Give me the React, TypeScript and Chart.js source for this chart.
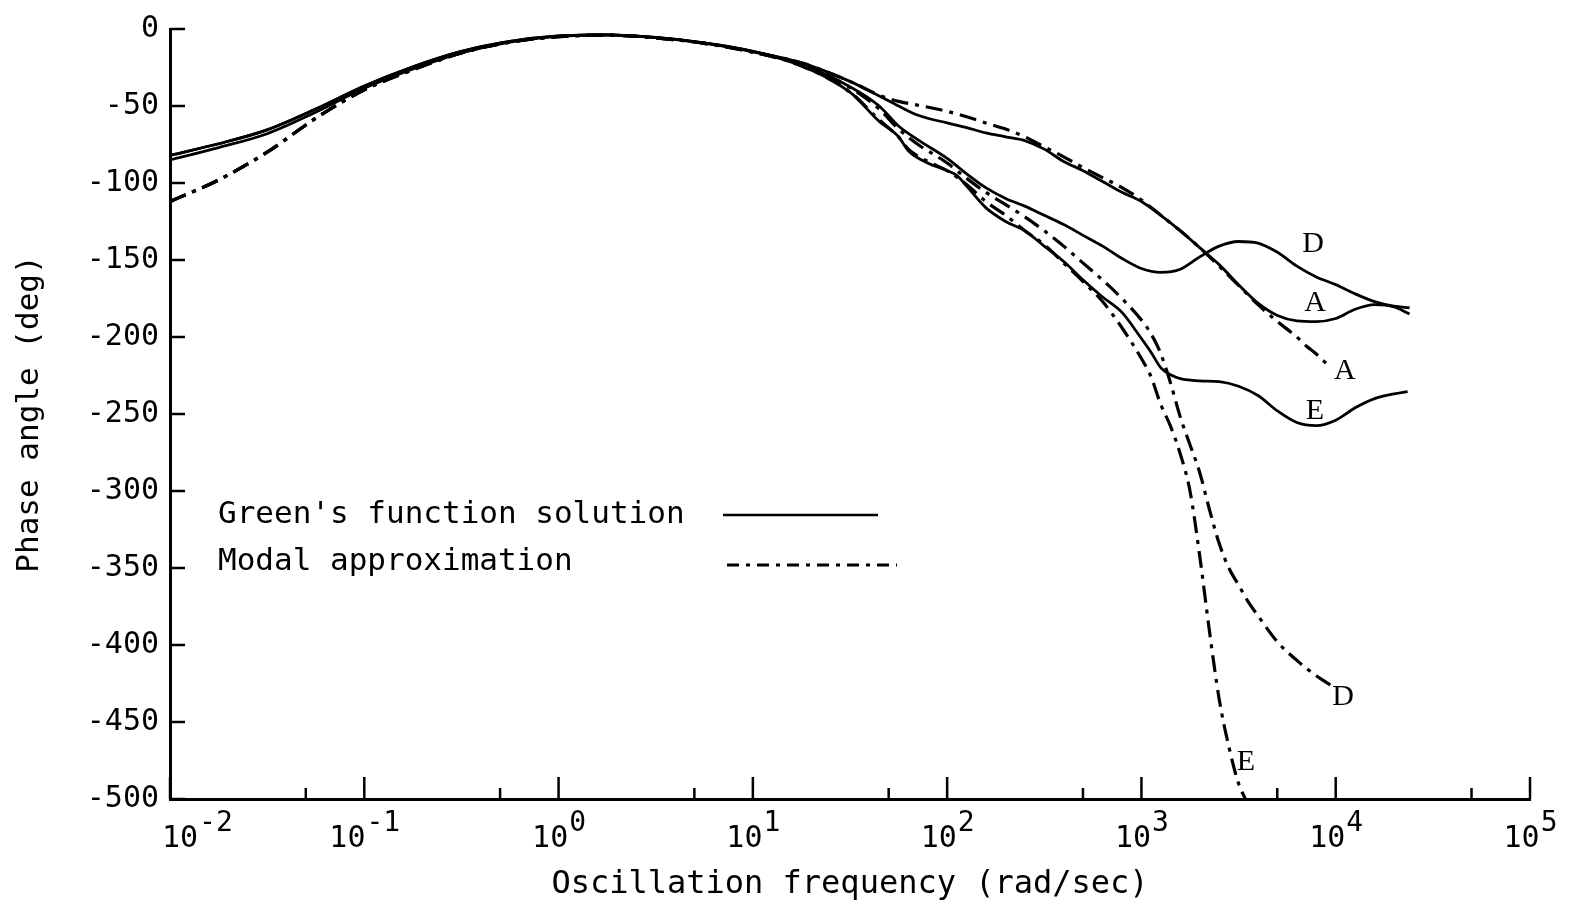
import React, { useEffect, useRef } from "react";
import { Chart, registerables } from "chart.js";

Chart.register(...registerables);

// ---------- data (frequency in rad/sec, phase angle in deg) ----------
const GA_FREQ = [0.01, 0.0178, 0.0316, 0.0562, 0.1, 0.178, 0.316, 0.562, 1, 1.78, 3.16, 5.62, 10, 17.8, 31.6, 44.7, 56.2, 70.8, 100, 126, 158, 200, 251, 316, 398, 501, 631, 794, 1000, 1259, 1585, 1995, 2512, 3162, 3981, 5012, 6310, 7943, 10000, 12589, 15849, 19953, 23988];
const GA_PHASE = [-85, -77, -68, -54, -38.5, -26, -15.5, -8.5, -4.8, -3.9, -5.6, -9.2, -14.8, -22, -34, -43.5, -50, -56, -61, -64, -67.5, -70, -72.5, -78, -86, -92, -99, -106, -112, -121, -131, -142, -153, -166, -178, -186, -189.5, -190, -188, -182, -179, -180.5, -185];

const GD_FREQ = [0.01, 0.0178, 0.0316, 0.0562, 0.1, 0.178, 0.316, 0.562, 1, 1.78, 3.16, 5.62, 10, 17.8, 31.6, 44.7, 56.2, 70.8, 100, 126, 158, 200, 251, 316, 398, 501, 631, 794, 1000, 1259, 1585, 1995, 2512, 3162, 3981, 5012, 6310, 7943, 10000, 12589, 15849, 19953, 23988];
const GD_PHASE = [-82, -74.5, -65.5, -52, -37, -24.5, -14.5, -8, -4.5, -3.8, -5.5, -9, -14.5, -23, -37.5, -50, -63, -72, -84, -94, -103, -110, -115, -121, -127, -134, -141, -149, -155.5, -158, -156, -148, -141, -138, -139, -145, -154, -161, -166, -172, -177, -180, -181];

const GE_FREQ = [0.01, 0.0178, 0.0316, 0.0562, 0.1, 0.178, 0.316, 0.562, 1, 1.78, 3.16, 5.62, 10, 17.8, 31.6, 44.7, 56.2, 63.1, 79.4, 100, 112, 126, 158, 200, 251, 316, 398, 501, 631, 794, 1000, 1122, 1259, 1413, 1585, 1995, 2512, 3162, 3981, 5012, 6310, 7943, 10000, 12589, 15849, 19953, 23442];
const GE_PHASE = [-82, -74.5, -65.5, -52, -37, -24.5, -14.5, -8, -4.5, -3.8, -5.5, -9, -14.5, -24, -41, -60, -70, -79, -87, -92, -95, -102, -116, -125, -131, -141, -151, -163, -174, -184, -201, -210, -220, -224.5, -227, -228.5, -229, -232, -238, -248, -255.5, -257.5, -254, -246, -240, -237, -235.5];

const MA_FREQ = [0.01, 0.0178, 0.0316, 0.0562, 0.1, 0.178, 0.316, 0.562, 1, 1.78, 3.16, 5.62, 10, 17.8, 31.6, 44.7, 56.2, 70.8, 100, 126, 158, 200, 251, 316, 398, 501, 631, 794, 1000, 1259, 1585, 1995, 2512, 3162, 3981, 5012, 6310, 7079, 7943, 9333];
const MA_PHASE = [-112, -98, -80, -58, -39.5, -26.5, -15.5, -8.5, -5, -4, -5.8, -9.3, -15, -22, -34, -43, -47, -49.5, -53.5, -57, -61, -65, -70, -76.5, -83, -90, -96.5, -103, -111, -121, -131, -142, -154, -166.5, -179, -190, -200, -206, -211, -219.5];

const MD_FREQ = [0.01, 0.0178, 0.0316, 0.0562, 0.1, 0.178, 0.316, 0.562, 1, 1.78, 3.16, 5.62, 10, 17.8, 31.6, 44.7, 56.2, 70.8, 100, 126, 158, 200, 251, 316, 398, 501, 631, 794, 1000, 1122, 1259, 1413, 1585, 1778, 1995, 2239, 2512, 2818, 3162, 3548, 3981, 5012, 6310, 7943, 9683];
const MD_PHASE = [-112, -98, -80, -58, -39.5, -26.5, -15.5, -8.5, -5, -4, -5.8, -9.3, -15, -23, -38, -52, -65, -75, -87, -97, -106, -114, -122, -131, -141, -152, -163, -175, -189, -198, -211, -230, -252, -270, -288, -312, -334, -350, -361, -372, -381, -398, -410, -420, -427];

const ME_FREQ = [0.01, 0.0178, 0.0316, 0.0562, 0.1, 0.178, 0.316, 0.562, 1, 1.78, 3.16, 5.62, 10, 17.8, 31.6, 44.7, 56.2, 63.1, 79.4, 100, 126, 158, 200, 251, 316, 398, 501, 631, 794, 1000, 1122, 1259, 1413, 1585, 1778, 1995, 2239, 2512, 2818, 3162, 3428];
const ME_PHASE = [-112, -98, -80, -58, -39.5, -26.5, -15.5, -8.5, -5, -4, -5.8, -9.3, -15, -24, -41, -59, -70, -78, -86, -92, -101, -112, -121, -131, -140, -152, -164, -177, -194, -214, -226, -244, -258, -276, -300, -342, -391, -435, -466, -490, -500];

// ---------- axes / ticks / labels ----------
const X_MAJOR_TICKS = [0.01, 0.1, 1, 10, 100, 1000, 10000, 100000];
const X_MAJOR_EXPONENTS = ["-2", "-1", "0", "1", "2", "3", "4", "5"];
const X_MINOR_TICKS = [0.05, 0.5, 5, 50, 500, 5000, 50000];
const Y_TICKS = [0, -50, -100, -150, -200, -250, -300, -350, -400, -450, -500];

const CURVE_LABELS = ["D", "A", "A", "E", "D", "E"];
const CURVE_LABEL_FREQ = [7640, 7820, 11140, 7820, 10900, 3450];
const CURVE_LABEL_PHASE = [-140, -178, -222, -248, -434, -476];

const LEGEND_TEXT = ["Green's function solution", "Modal approximation"];
const X_TITLE = "Oscillation frequency (rad/sec)";
const Y_TITLE = "Phase angle (deg)";

const MONO = '"DejaVu Sans Mono", "Liberation Mono", monospace';
const DASH_DOT = [17, 7, 4, 7];

const toPoints = (fs: number[], ps: number[]) => fs.map((f, i) => ({ x: f, y: ps[i] }));

const decorPlugin = {
  id: "decor",
  afterDraw(chart: any) {
    const { ctx, chartArea: a, scales } = chart;
    const xs = scales.x;
    const ys = scales.y;
    ctx.save();
    ctx.strokeStyle = "#000";
    ctx.fillStyle = "#000";
    ctx.lineCap = "butt";
    const seg = (x1: number, y1: number, x2: number, y2: number) => {
      ctx.beginPath();
      ctx.moveTo(x1, y1);
      ctx.lineTo(x2, y2);
      ctx.stroke();
    };
    // inward tick marks
    ctx.lineWidth = 2.5;
    X_MAJOR_TICKS.forEach((v) => {
      const px = xs.getPixelForValue(v);
      seg(px, a.bottom, px, a.bottom - 22);
    });
    X_MINOR_TICKS.forEach((v) => {
      const px = xs.getPixelForValue(v);
      seg(px, a.bottom, px, a.bottom - 11);
    });
    Y_TICKS.forEach((v) => {
      const py = ys.getPixelForValue(v);
      seg(a.left, py, a.left + 15, py);
    });

    // x tick labels with superscript exponents
    ctx.textAlign = "left";
    ctx.textBaseline = "alphabetic";
    X_MAJOR_TICKS.forEach((v, i) => {
      const px = xs.getPixelForValue(v);
      ctx.font = `30px ${MONO}`;
      const wb = ctx.measureText("10").width;
      ctx.font = `28px ${MONO}`;
      const we = ctx.measureText(X_MAJOR_EXPONENTS[i]).width;
      let x0 = px - (wb + we) / 2;
      if (x0 < a.left - 8) x0 = a.left - 8;
      ctx.font = `30px ${MONO}`;
      ctx.fillText("10", x0, a.bottom + 48);
      ctx.font = `28px ${MONO}`;
      ctx.fillText(X_MAJOR_EXPONENTS[i], x0 + wb + 1, a.bottom + 32);
    });

    // legend
    ctx.font = `31px ${MONO}`;
    ctx.textBaseline = "middle";
    ctx.fillText(LEGEND_TEXT[0], a.left + 48, a.top + 486);
    ctx.fillText(LEGEND_TEXT[1], a.left + 48, a.top + 533);
    ctx.lineWidth = 2.5;
    seg(a.left + 553, a.top + 486, a.left + 708, a.top + 486);
    ctx.lineWidth = 3;
    ctx.setLineDash([12, 7, 4, 7]);
    seg(a.left + 557, a.top + 536, a.left + 727, a.top + 536);
    ctx.setLineDash([]);

    // curve labels
    ctx.font = `30px "Liberation Serif", serif`;
    ctx.textAlign = "center";
    ctx.textBaseline = "middle";
    CURVE_LABELS.forEach((t, i) => {
      ctx.fillText(t, xs.getPixelForValue(CURVE_LABEL_FREQ[i]), ys.getPixelForValue(CURVE_LABEL_PHASE[i]));
    });
    ctx.restore();
  },
};

export default function App() {
  const ref = useRef<HTMLCanvasElement | null>(null);

  useEffect(() => {
    if (!ref.current) return;
    const solid = (label: string, fs: number[], ps: number[]) => ({
      label,
      data: toPoints(fs, ps),
      borderColor: "#000",
      borderWidth: 2.8,
      pointRadius: 0,
      fill: false,
      cubicInterpolationMode: "monotone" as const,
    });
    const dashed = (label: string, fs: number[], ps: number[]) => ({
      ...solid(label, fs, ps),
      borderWidth: 3.2,
      borderDash: DASH_DOT,
    });
    const chart = new Chart(ref.current, {
      type: "line",
      data: {
        datasets: [
          solid("Green's function A", GA_FREQ, GA_PHASE),
          solid("Green's function D", GD_FREQ, GD_PHASE),
          solid("Green's function E", GE_FREQ, GE_PHASE),
          dashed("Modal A", MA_FREQ, MA_PHASE),
          dashed("Modal D", MD_FREQ, MD_PHASE),
          dashed("Modal E", ME_FREQ, ME_PHASE),
        ],
      },
      options: {
        responsive: false,
        animation: false,
        devicePixelRatio: 1,
        layout: { padding: { top: 22, right: 39, bottom: 0, left: 0 } },
        plugins: { legend: { display: false }, tooltip: { enabled: false } },
        scales: {
          x: {
            type: "logarithmic",
            min: 0.01,
            max: 100000,
            grid: { display: true, drawOnChartArea: false, drawTicks: false },
            border: { display: true, color: "#000", width: 3 },
            ticks: { display: false },
            title: {
              display: true,
              text: X_TITLE,
              color: "#000",
              font: { family: MONO, size: 32, lineHeight: 1.2 },
              padding: { top: 0, bottom: 3 },
            },
            afterFit: (s: any) => {
              s.height = 108;
            },
          },
          y: {
            type: "linear",
            min: -500,
            max: 0,
            grid: { display: true, drawOnChartArea: false, drawTicks: false },
            border: { display: true, color: "#000", width: 3 },
            ticks: {
              stepSize: 50,
              autoSkip: false,
              color: "#000",
              padding: 11,
              font: { family: MONO, size: 30 },
            },
            title: {
              display: true,
              text: Y_TITLE,
              color: "#000",
              font: { family: MONO, size: 31, lineHeight: 1.2 },
              padding: { top: 11, bottom: 0 },
            },
            afterFit: (s: any) => {
              s.width = 170;
            },
          },
        },
      },
      plugins: [decorPlugin],
    });
    return () => chart.destroy();
  }, []);

  return (
    <div style={{ position: "absolute", left: 0, top: 0, width: 1569, height: 907, background: "#fff" }}>
      <canvas ref={ref} width={1569} height={907} style={{ width: 1569, height: 907, display: "block" }} />
    </div>
  );
}
